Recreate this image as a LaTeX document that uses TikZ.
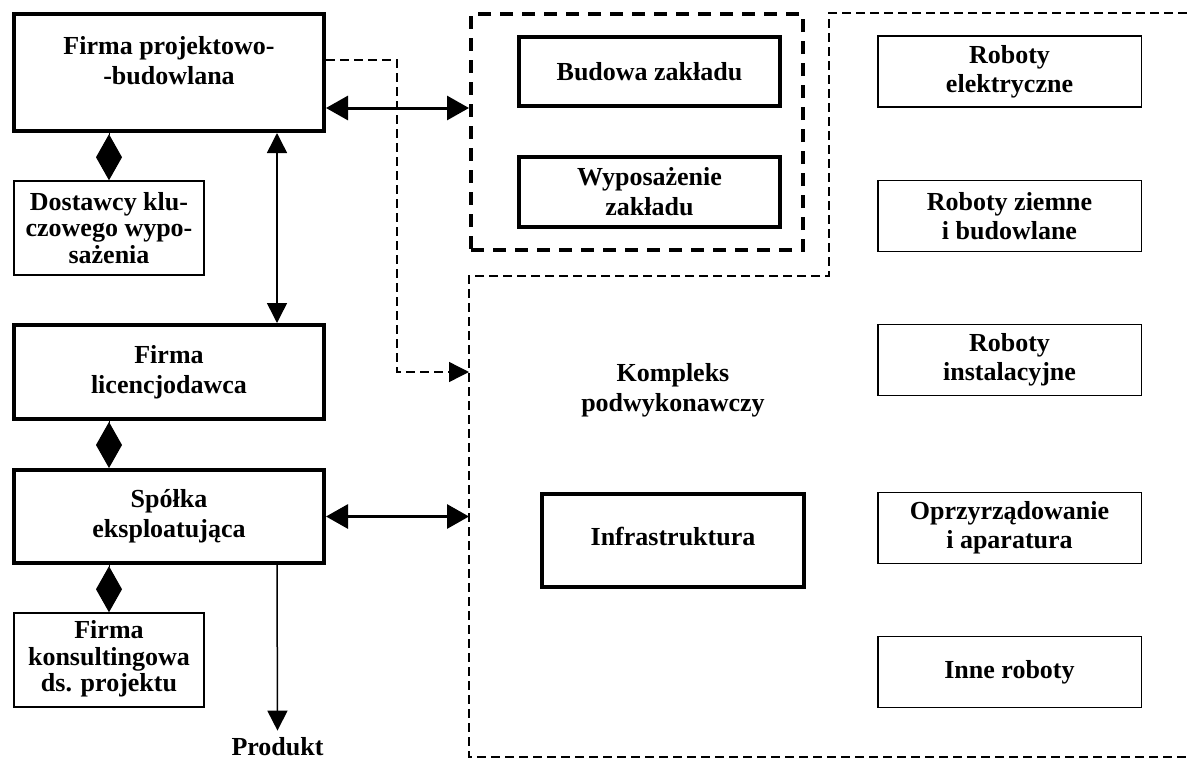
\documentclass[tikz,border=0pt]{standalone}
\usepackage{fontspec}
\setmainfont{Liberation Serif}
\usetikzlibrary{arrows.meta}
\begin{document}
\begin{tikzpicture}[x=1pt,y=-1pt,
  every node/.style={font=\fontsize{26}{30}\selectfont\bfseries, align=center, inner sep=0pt},
  heavybox/.style={draw, rectangle, line width=4pt},
  lightbox/.style={draw, rectangle, line width=1.5pt},
  tightlines/.style={font=\fontsize{26}{26.5}\selectfont\bfseries},
  roboty/.style={lightbox, minimum width=263.5pt, minimum height=71pt, font=\fontsize{26}{29}\selectfont\bfseries},
  heavydash/.style={line width=4pt, dash pattern=on 13pt off 9pt},
  lightdash/.style={line width=1.4pt, dash pattern=on 9pt off 5pt},
  twoway/.style={line width=3pt, {Triangle[length=22pt,width=24pt]}-{Triangle[length=22pt,width=24pt]}},
  thinway/.style={line width=1.5pt, {Triangle[length=20pt,width=20pt]}-{Triangle[length=20pt,width=20pt]}},
  oneway/.style={line width=1.5pt, -{Triangle[length=20pt,width=20pt]}},
  dashway/.style={lightdash, -{Triangle[length=20pt,width=20pt]}},
  bond/.style={line width=1pt, -{Diamond[length=46pt,width=26pt]}}
]
\useasboundingbox (0,0) rectangle (1187,761);

% left column
\node[heavybox, minimum width=310pt, minimum height=117pt] (fpb) at (169,72.5) {};
\node (fpbtext) at (169,61) {Firma projektowo-\\-budowlana};
\node[lightbox, tightlines, minimum width=190pt, minimum height=94pt] (dost) at (109,228) {Dostawcy klu-\\czowego wypo-\\sażenia};
\node[heavybox, minimum width=310pt, minimum height=94pt] (flic) at (169,372) {Firma\\licencjodawca};
\node[heavybox, minimum width=310pt, minimum height=93pt] (sp) at (169,516.5) {Spółka\\eksploatująca};
\node[lightbox, tightlines, minimum width=190pt, minimum height=94pt] (kons) at (109,660) {\raisebox{7pt}{\begin{tabular}{@{}c@{}}Firma\\konsultingowa\\ds. projektu\end{tabular}}};
\node (prod) at (277.5,747) {Produkt};

% plant group
\node[rectangle, draw, heavydash, minimum width=332pt, minimum height=236pt] (zaklad) at (637,132) {};
\node[heavybox, minimum width=261pt, minimum height=69pt] (bud) at (649.5,71.5) {Budowa zakładu};
\node[heavybox, minimum width=261pt, minimum height=70pt] (wyp) at (649.5,192) {Wyposażenie\\zakładu};

% subcontractor complex
\coordinate (kleft) at (469,276);
\coordinate (kcorner) at (829,276);
\coordinate (ktop) at (829,13);
\coordinate (ktopend) at (1187,13);
\coordinate (kbot) at (469,757);
\coordinate (kbotend) at (1187,757);
\draw[lightdash] (ktopend) -- (ktop) -- (kcorner) -- (kleft) -- (kbot) -- (kbotend);
\node (komp) at (673,390) {Kompleks\\podwykonawczy};
\node[heavybox, minimum width=262pt, minimum height=93pt] (infra) at (673,540.5) {\raisebox{8pt}{Infrastruktura}};

% works
\node[roboty] (rel) at (1009.5,71.5) {Roboty\\elektryczne};
\node[roboty] (rzb) at (1009.5,216) {Roboty ziemne\\i budowlane};
\node[roboty] (rin) at (1009.5,360) {Roboty\\instalacyjne};
\node[roboty] (opr) at (1009.5,528) {Oprzyrządowanie\\i aparatura};
\node[roboty] (inne) at (1009.5,672) {Inne roboty};

% connectors
\coordinate (col) at (277,0);
\coordinate (rowA) at (0,108);
\coordinate (bendA) at (397,60);
\coordinate (bendB) at (397,372);
\draw[bond] (dost.north |- fpb.south) -- (dost.north);
\draw[bond] (kons.north |- flic.south) -- (kons.north |- sp.north);
\draw[bond] (kons.north |- sp.south) -- (kons.north);
\draw[thinway] (fpb.south -| col) -- (flic.north -| col);
\draw[oneway] (sp.south -| col) -- ([yshift=7pt]prod.north);
\draw[twoway] (fpb.east |- rowA) -- (zaklad.west |- rowA);
\draw[twoway] (sp.east) -- (sp.east -| kleft);
\draw[dashway] (fpb.east |- bendA) -- (bendA) -- (bendB) -- (bendB -| kleft);
\end{tikzpicture}
\end{document}
